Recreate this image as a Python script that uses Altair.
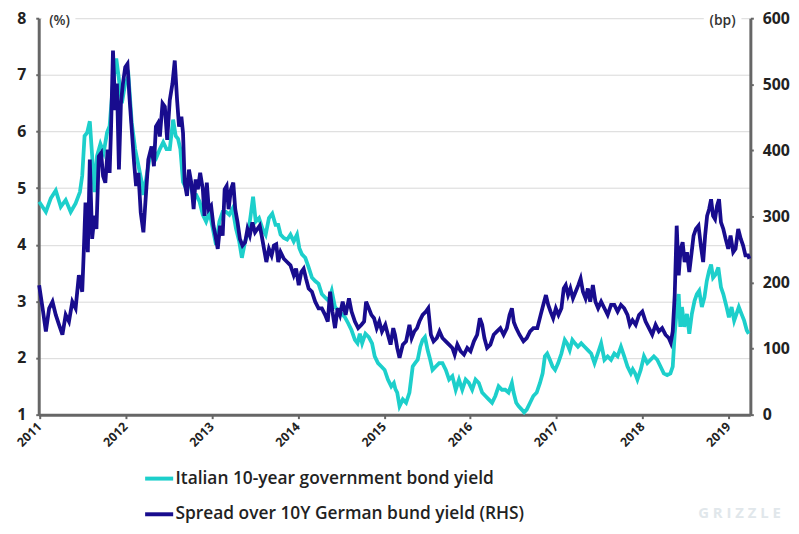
import altair as alt
import pandas as pd

# ---------------- data ----------------
it_years = [2010.995, 2011.073, 2011.130, 2011.188, 2011.246, 2011.303, 2011.361, 2011.418, 2011.468, 2011.495,
            2011.522, 2011.552, 2011.583, 2011.610, 2011.637, 2011.667, 2011.706, 2011.744, 2011.783, 2011.813,
            2011.852, 2011.890, 2011.917, 2011.955, 2011.994, 2012.032, 2012.070, 2012.109, 2012.147, 2012.185,
            2012.205, 2012.243, 2012.281, 2012.320, 2012.358, 2012.396, 2012.435, 2012.473, 2012.511, 2012.550,
            2012.580, 2012.607, 2012.634, 2012.665, 2012.703, 2012.742, 2012.780, 2012.818, 2012.857, 2012.895,
            2012.933, 2012.972, 2013.010, 2013.048, 2013.087, 2013.125, 2013.164, 2013.202, 2013.240, 2013.279,
            2013.317, 2013.348, 2013.386, 2013.424, 2013.451, 2013.478, 2013.509, 2013.547, 2013.586, 2013.624,
            2013.662, 2013.701, 2013.739, 2013.770, 2013.797, 2013.835, 2013.873, 2013.912, 2013.950, 2013.988,
            2014.015, 2014.046, 2014.084, 2014.123, 2014.161, 2014.199, 2014.238, 2014.276, 2014.314, 2014.353,
            2014.391, 2014.429, 2014.468, 2014.506, 2014.545, 2014.583, 2014.621, 2014.660, 2014.690, 2014.717,
            2014.744, 2014.782, 2014.821, 2014.859, 2014.890, 2014.928, 2014.967, 2015.005, 2015.043, 2015.082,
            2015.112, 2015.130, 2015.151, 2015.178, 2015.216, 2015.254, 2015.293, 2015.331, 2015.358, 2015.389,
            2015.419, 2015.446, 2015.473, 2015.504, 2015.534, 2015.561, 2015.599, 2015.638, 2015.676, 2015.715,
            2015.753, 2015.791, 2015.830, 2015.868, 2015.906, 2015.945, 2015.983, 2016.021, 2016.060, 2016.098,
            2016.137, 2016.175, 2016.213, 2016.252, 2016.290, 2016.328, 2016.367, 2016.405, 2016.443, 2016.482,
            2016.501, 2016.532, 2016.559, 2016.597, 2016.624, 2016.654, 2016.693, 2016.731, 2016.770, 2016.808,
            2016.839, 2016.865, 2016.892, 2016.923, 2016.954, 2016.984, 2017.019, 2017.057, 2017.096, 2017.122,
            2017.153, 2017.184, 2017.214, 2017.249, 2017.287, 2017.326, 2017.364, 2017.402, 2017.441, 2017.479,
            2017.518, 2017.556, 2017.594, 2017.633, 2017.671, 2017.709, 2017.748, 2017.786, 2017.824, 2017.863,
            2017.885, 2017.912, 2017.939, 2017.977, 2018.015, 2018.054, 2018.092, 2018.130, 2018.169, 2018.207,
            2018.245, 2018.284, 2018.322, 2018.349, 2018.372, 2018.399, 2018.418, 2018.437, 2018.456, 2018.483,
            2018.514, 2018.541, 2018.571, 2018.602, 2018.629, 2018.656, 2018.687, 2018.717, 2018.744, 2018.771,
            2018.794, 2018.817, 2018.848, 2018.878, 2018.909, 2018.936, 2018.974, 2019.001, 2019.032, 2019.062,
            2019.089, 2019.116, 2019.147, 2019.178, 2019.208, 2019.231]
it_yield = [4.76, 4.58, 4.82, 4.96, 4.67, 4.79, 4.58, 4.73, 4.93, 5.22,
            5.92, 5.98, 6.18, 5.57, 4.93, 5.57, 5.78, 5.63, 5.98, 6.10,
            6.85, 7.29, 6.97, 6.50, 6.85, 6.97, 6.15, 5.69, 5.40, 5.11,
            4.88, 5.22, 5.57, 5.69, 5.55, 5.69, 5.81, 5.69, 5.69, 6.21,
            5.92, 5.87, 5.69, 5.11, 4.99, 5.11, 4.88, 4.88, 4.76, 4.53,
            4.41, 4.58, 4.29, 4.00, 4.41, 4.58, 4.58, 4.53, 4.64, 4.29,
            4.06, 3.77, 4.06, 4.24, 4.53, 4.85, 4.41, 4.47, 4.29, 4.18,
            4.47, 4.55, 4.35, 4.35, 4.18, 4.12, 4.09, 4.18, 4.06, 4.18,
            3.94, 3.83, 3.77, 3.60, 3.42, 3.36, 3.31, 3.13, 3.07, 3.01,
            3.19, 2.90, 2.84, 2.78, 2.72, 2.61, 2.49, 2.32, 2.26, 2.43,
            2.26, 2.43, 2.37, 2.26, 2.03, 1.91, 1.85, 1.79, 1.62, 1.50,
            1.56, 1.45, 1.39, 1.15, 1.27, 1.21, 1.39, 1.85, 1.91, 1.97,
            2.20, 2.32, 2.37, 2.14, 1.97, 1.79, 1.85, 1.91, 1.91, 1.79,
            1.62, 1.68, 1.44, 1.62, 1.44, 1.62, 1.56, 1.44, 1.62, 1.56,
            1.39, 1.33, 1.27, 1.21, 1.33, 1.50, 1.44, 1.44, 1.39, 1.56,
            1.40, 1.21, 1.15, 1.09, 1.04, 1.09, 1.21, 1.33, 1.39, 1.56,
            1.73, 2.03, 2.08, 1.97, 1.85, 1.79, 1.91, 2.08, 2.32, 2.26,
            2.14, 2.32, 2.26, 2.20, 2.26, 2.20, 2.14, 2.08, 1.91, 2.08,
            2.26, 1.97, 2.03, 1.97, 2.08, 2.03, 2.20, 2.03, 1.85, 1.73,
            1.80, 1.73, 1.62, 1.79, 2.03, 1.91, 1.97, 2.03, 1.97, 1.85,
            1.73, 1.70, 1.73, 1.85, 2.43, 2.90, 3.13, 2.55, 2.90, 2.55,
            2.78, 2.43, 2.78, 3.01, 3.13, 3.19, 2.90, 3.07, 3.36, 3.54,
            3.65, 3.42, 3.48, 3.60, 3.25, 3.13, 2.90, 2.72, 2.90, 2.66,
            2.78, 2.90, 2.78, 2.66, 2.49, 2.43]

sp_years = [2010.995, 2011.035, 2011.073, 2011.111, 2011.150, 2011.188, 2011.226, 2011.265, 2011.303, 2011.341,
            2011.380, 2011.418, 2011.456, 2011.495, 2011.514, 2011.533, 2011.560, 2011.583, 2011.610, 2011.637,
            2011.660, 2011.687, 2011.714, 2011.737, 2011.763, 2011.790, 2011.813, 2011.829, 2011.852, 2011.878,
            2011.898, 2011.921, 2011.944, 2011.967, 2011.994, 2012.020, 2012.043, 2012.070, 2012.097, 2012.120,
            2012.147, 2012.174, 2012.205, 2012.228, 2012.262, 2012.300, 2012.327, 2012.350, 2012.373, 2012.396,
            2012.427, 2012.454, 2012.481, 2012.511, 2012.542, 2012.569, 2012.596, 2012.619, 2012.646, 2012.665,
            2012.684, 2012.711, 2012.734, 2012.761, 2012.788, 2012.811, 2012.837, 2012.864, 2012.895, 2012.914,
            2012.941, 2012.964, 2012.991, 2013.018, 2013.041, 2013.068, 2013.095, 2013.125, 2013.148, 2013.171,
            2013.194, 2013.221, 2013.248, 2013.271, 2013.298, 2013.325, 2013.355, 2013.386, 2013.413, 2013.440,
            2013.470, 2013.501, 2013.528, 2013.555, 2013.578, 2013.605, 2013.632, 2013.662, 2013.693, 2013.720,
            2013.747, 2013.770, 2013.797, 2013.835, 2013.873, 2013.912, 2013.950, 2013.977, 2014.008, 2014.038,
            2014.065, 2014.092, 2014.123, 2014.161, 2014.199, 2014.238, 2014.276, 2014.314, 2014.345, 2014.372,
            2014.399, 2014.429, 2014.460, 2014.487, 2014.518, 2014.552, 2014.591, 2014.621, 2014.660, 2014.698,
            2014.736, 2014.767, 2014.790, 2014.821, 2014.851, 2014.882, 2014.913, 2014.943, 2014.974, 2015.013,
            2015.043, 2015.074, 2015.105, 2015.125, 2015.151, 2015.178, 2015.216, 2015.254, 2015.293, 2015.319,
            2015.350, 2015.381, 2015.408, 2015.446, 2015.484, 2015.511, 2015.542, 2015.573, 2015.611, 2015.642,
            2015.676, 2015.715, 2015.753, 2015.791, 2015.818, 2015.849, 2015.887, 2015.926, 2015.964, 2016.002,
            2016.041, 2016.079, 2016.110, 2016.137, 2016.163, 2016.194, 2016.232, 2016.271, 2016.309, 2016.348,
            2016.386, 2016.424, 2016.455, 2016.482, 2016.505, 2016.532, 2016.570, 2016.616, 2016.654, 2016.693,
            2016.731, 2016.777, 2016.816, 2016.846, 2016.877, 2016.904, 2016.931, 2016.961, 2016.992, 2017.023,
            2017.057, 2017.084, 2017.107, 2017.134, 2017.161, 2017.191, 2017.222, 2017.253, 2017.280, 2017.307,
            2017.337, 2017.364, 2017.391, 2017.422, 2017.452, 2017.483, 2017.518, 2017.556, 2017.594, 2017.633,
            2017.671, 2017.709, 2017.748, 2017.786, 2017.824, 2017.851, 2017.882, 2017.919, 2017.958, 2017.996,
            2018.034, 2018.073, 2018.111, 2018.150, 2018.188, 2018.226, 2018.265, 2018.303, 2018.326, 2018.349,
            2018.372, 2018.395, 2018.418, 2018.441, 2018.464, 2018.487, 2018.514, 2018.541, 2018.564, 2018.591,
            2018.618, 2018.648, 2018.675, 2018.702, 2018.725, 2018.748, 2018.771, 2018.794, 2018.817, 2018.840,
            2018.863, 2018.886, 2018.909, 2018.936, 2018.963, 2018.993, 2019.020, 2019.051, 2019.078, 2019.109,
            2019.139, 2019.166, 2019.193, 2019.224, 2019.239]
sp_bp = [196, 161, 126, 161, 171, 151, 136, 121, 151, 141,
         171, 161, 211, 186, 251, 321, 246, 386, 266, 301,
         281, 391, 396, 361, 351, 401, 366, 431, 551, 461,
         501, 371, 471, 501, 526, 531, 481, 431, 381, 346,
         366, 306, 276, 321, 386, 406, 376, 436, 441, 421,
         471, 466, 416, 476, 501, 536, 476, 436, 451, 426,
         351, 331, 371, 351, 311, 356, 341, 366, 341, 301,
         351, 311, 316, 286, 271, 251, 286, 271, 341, 346,
         311, 341, 351, 311, 291, 266, 256, 261, 281, 271,
         291, 276, 281, 286, 271, 251, 231, 251, 241, 256,
         258, 231, 246, 236, 231, 226, 211, 221, 196, 216,
         221, 206, 191, 186, 171, 161, 161, 151, 141, 186,
         156, 131, 161, 151, 171, 151, 176, 156, 141, 131,
         136, 141, 171, 161, 151, 146, 131, 141, 126, 136,
         121, 106, 131, 121, 101, 86, 106, 111, 136, 116,
         126, 131, 141, 151, 156, 161, 121, 111, 116, 126,
         116, 111, 106, 101, 91, 106, 96, 91, 101, 96,
         111, 121, 146, 136, 116, 101, 106, 121, 126, 131,
         121, 131, 151, 161, 140, 131, 121, 111, 116, 126,
         131, 131, 151, 166, 181, 166, 156, 146, 161, 151,
         161, 191, 196, 181, 191, 176, 186, 196, 206, 186,
         176, 191, 171, 196, 171, 161, 171, 161, 151, 166,
         166, 156, 166, 161, 151, 136, 143, 136, 151, 156,
         141, 131, 121, 136, 126, 131, 121, 116, 109, 126,
         181, 286, 211, 251, 261, 231, 246, 216, 241, 271,
         281, 286, 256, 231, 271, 301, 311, 326, 301, 296,
         316, 326, 291, 281, 266, 251, 271, 246, 251, 281,
         266, 256, 241, 241, 236]

LBL_IT = "Italian 10-year government bond yield"
LBL_SP = "Spread over 10Y German bund yield (RHS)"
series_names = [LBL_IT, LBL_SP]
series_colors = ["#1dcfcb", "#180c8e"]

year_ticks = list(range(2011, 2020))
left_ticks = list(range(1, 9))
right_ticks = list(range(0, 601, 100))

FONT = "Open Sans"
AXIS_GRAY = "#666666"
LABEL_COLOR = "#222222"

df_it = pd.DataFrame({"year": it_years, "value": it_yield, "series": LBL_IT})
df_sp = pd.DataFrame({"year": sp_years, "value": sp_bp, "series": LBL_SP})
df_years = pd.DataFrame({"year": year_ticks, "label": [str(y) for y in year_ticks]})

x_scale = alt.Scale(domain=[2010.99, 2019.25], nice=False, zero=False)
x_axis = alt.Axis(values=year_ticks, labels=False, title=None, grid=False,
                  domainColor=AXIS_GRAY, domainWidth=3, tickColor=AXIS_GRAY, tickSize=4, tickWidth=2)
x_enc = alt.X("year:Q", scale=x_scale, axis=x_axis)

color_enc = alt.Color(
    "series:N",
    scale=alt.Scale(domain=series_names, range=series_colors),
    legend=alt.Legend(
        orient="none", legendX=105, legendY=448, direction="vertical",
        title=None, symbolType="stroke", symbolStrokeWidth=4, symbolSize=800,
        labelFont=FONT, labelFontSize=17.5, labelFontWeight=600, labelColor=LABEL_COLOR,
        labelOffset=0, rowPadding=11, padding=0, labelLimit=500,
    ),
)

it_line = alt.Chart(df_it).mark_line(strokeWidth=3.8).encode(
    x=x_enc,
    y=alt.Y("value:Q", scale=alt.Scale(domain=[1, 8], nice=False, zero=False),
            axis=alt.Axis(values=left_ticks, title=None, orient="left", grid=True,
                          gridColor="#d9d9d9", gridWidth=1,
                          domainColor=AXIS_GRAY, domainWidth=3, tickColor=AXIS_GRAY, tickSize=3, tickWidth=2,
                          labelFont=FONT, labelFontSize=16, labelFontWeight="bold", labelColor=LABEL_COLOR,
                          labelPadding=10)),
    color=color_enc,
)

sp_line = alt.Chart(df_sp).mark_line(strokeWidth=3.8).encode(
    x=x_enc,
    y=alt.Y("value:Q", scale=alt.Scale(domain=[0, 600], nice=False, zero=False),
            axis=alt.Axis(values=right_ticks, title=None, orient="right", grid=False,
                          domainColor=AXIS_GRAY, domainWidth=3, tickColor=AXIS_GRAY, tickSize=3, tickWidth=2,
                          labelFont=FONT, labelFontSize=16, labelFontWeight="bold", labelColor=LABEL_COLOR,
                          labelPadding=9)),
    color=color_enc,
)

# rotated year labels under the x axis
year_labels = alt.Chart(df_years).mark_text(
    font=FONT, fontSize=12.5, fontWeight="bold", color=LABEL_COLOR,
    align="right", baseline="middle"
).encode(
    x=alt.X("year:Q", scale=x_scale),
    y=alt.value(410),
    text="label:N",
    angle=alt.value(315),
)

# unit labels with a white backing (they interrupt the top gridline)
unit_df = pd.DataFrame({"t": ["(%)"]})
unit_bg_left = alt.Chart(unit_df).mark_rect(color="white").encode(
    x=alt.value(3), x2=alt.value(37), y=alt.value(-3), y2=alt.value(3))
unit_bg_right = alt.Chart(unit_df).mark_rect(color="white").encode(
    x=alt.value(671), x2=alt.value(709), y=alt.value(-3), y2=alt.value(3))
unit_left = alt.Chart(unit_df).mark_text(
    font=FONT, fontSize=14, fontWeight=600, color="#333333", baseline="middle", align="center"
).encode(x=alt.value(21), y=alt.value(3), text=alt.value("(%)"))
unit_right = alt.Chart(unit_df).mark_text(
    font=FONT, fontSize=14, fontWeight=600, color="#333333", baseline="middle", align="center"
).encode(x=alt.value(690), y=alt.value(3), text=alt.value("(bp)"))

watermark = alt.Chart(unit_df).mark_text(
    font=FONT, fontSize=15, fontWeight="bold", color="#e1e7eb", baseline="middle", align="center"
).encode(x=alt.value(707), y=alt.value(499), text=alt.value("G R I Z Z L E"))

chart = alt.layer(
    it_line, sp_line, year_labels, unit_bg_left, unit_bg_right, unit_left, unit_right, watermark
).resolve_scale(
    y="independent"
).properties(
    width=718, height=400,
    autosize=alt.AutoSizeParams(type="none"),
    padding={"left": 31, "top": 8, "right": 41, "bottom": 108},
).configure_view(
    stroke=None, clip=False
)

chart.save("out.html", embed_options={"renderer": "svg", "actions": False})
